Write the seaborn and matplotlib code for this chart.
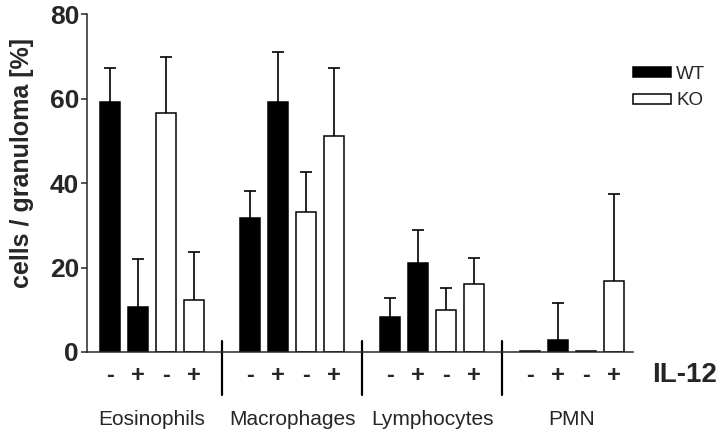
import numpy as np
import pandas as pd
import seaborn as sns
import matplotlib.pyplot as plt
from matplotlib.patches import Patch

# data (mean and upper error, % of cells per granuloma)
cell_types = ['Eosinophils', 'Macrophages', 'Lymphocytes', 'PMN']
wt_minus = [59.2, 31.7, 8.4, 0.3]
wt_plus = [10.7, 59.3, 21.2, 2.8]
ko_minus = [56.6, 33.1, 10.0, 0.3]
ko_plus = [12.3, 51.3, 16.0, 16.8]
wt_minus_err = [8.0, 6.5, 4.3, 0.0]
wt_plus_err = [11.4, 11.9, 7.8, 8.7]
ko_minus_err = [13.4, 9.6, 5.1, 0.0]
ko_plus_err = [11.5, 16.1, 6.3, 20.6]

series = [('WT', '-', wt_minus, wt_minus_err),
          ('WT', '+', wt_plus, wt_plus_err),
          ('KO', '-', ko_minus, ko_minus_err),
          ('KO', '+', ko_plus, ko_plus_err)]

rows = []
for g, cell in enumerate(cell_types):
    for slot, (geno, il12, vals, errs) in enumerate(series):
        rows.append({'cell': cell, 'genotype': geno, 'il12': il12,
                     'pos': g * 5 + slot, 'value': vals[g], 'err': errs[g]})
df = pd.DataFrame(rows)

sns.set_style('ticks')
plt.rcParams['font.family'] = ['Liberation Sans', 'DejaVu Sans']

fig = plt.figure(figsize=(7.2, 4.34), dpi=100)
ax = fig.add_axes([0.1213, 0.189, 0.7583, 0.7776])

palette = {'WT': 'black', 'KO': 'white'}
sns.barplot(data=df, x='pos', y='value', hue='genotype', hue_order=['WT', 'KO'],
            palette=palette, native_scale=True, dodge=False, width=0.69,
            edgecolor='black', linewidth=1.1, errorbar=None, legend=False,
            saturation=1, ax=ax)

# one-sided error bars (upper only)
eb = df[df['err'] > 0]
ax.vlines(eb['pos'], eb['value'], eb['value'] + eb['err'], color='black', lw=1.2)
ax.hlines(eb['value'] + eb['err'], eb['pos'] - 0.2, eb['pos'] + 0.2, color='black', lw=1.2)

ax.set_xlim(-0.81, 18.69)
ax.set_ylim(0, 80)
ax.set_yticks([0, 20, 40, 60, 80])
ax.tick_params(axis='y', length=4, width=1.1, pad=2, labelsize=19)
for lab in ax.get_yticklabels():
    lab.set_fontweight('bold')

ax.set_xticks(df['pos'])
ax.set_xticklabels(df['il12'], fontsize=17, fontweight='bold')
ax.tick_params(axis='x', length=0, pad=9)

ax.set_xlabel('')
ax.set_ylabel('cells / granuloma [%]', fontsize=18, fontweight='bold')
ax.yaxis.set_label_coords(-0.097, 0.561)

for side in ['top', 'right']:
    ax.spines[side].set_visible(False)
for side in ['left', 'bottom']:
    ax.spines[side].set_linewidth(1.1)

# group separators and labels
for sep in [4, 9, 14]:
    ax.plot([sep, sep], [2.7, -10.2], color='black', lw=1.6, clip_on=False)
for g, cell in enumerate(cell_types):
    ax.text(g * 5 + 1.5, -15.9, cell, ha='center', va='center', fontsize=15)
ax.text(1.034, -5.5, 'IL-12', transform=ax.get_yaxis_transform(), ha='left',
        va='center', fontsize=20, fontweight='bold', clip_on=False)

handles = [Patch(facecolor=palette[k], edgecolor='black', linewidth=1.1, label=k)
           for k in ['WT', 'KO']]
fig.legend(handles=handles, loc='upper left', bbox_to_anchor=(633 / 720, 1 - 66 / 434),
           frameon=False, fontsize=13.5, handlelength=2.0, handleheight=0.45,
           handletextpad=0.3, labelspacing=0.5, borderpad=0, borderaxespad=0)

fig.savefig('out.png', dpi=100)
